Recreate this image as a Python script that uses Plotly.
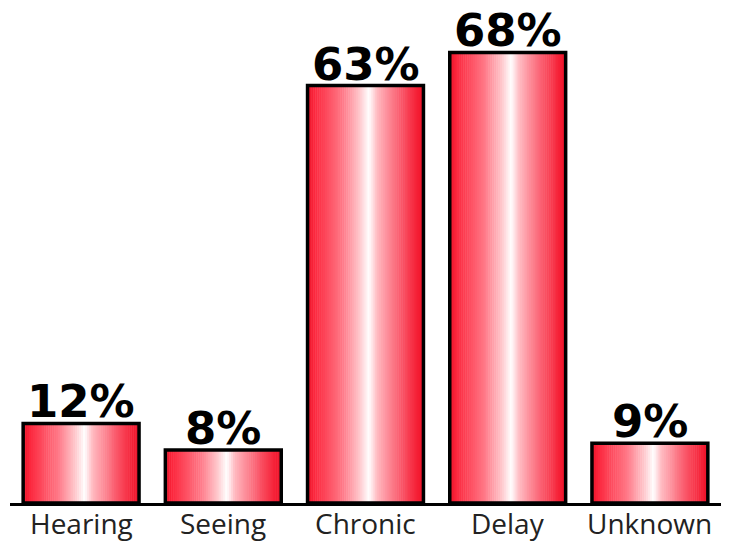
import plotly.graph_objects as go

# Share of cases by category (percent)
categories = ["Hearing", "Seeing", "Chronic", "Delay", "Unknown"]
values = [12, 8, 63, 68, 9]
value_labels = ["12%", "8%", "63%", "68%", "9%"]

BAR_W = 0.815
N_SLICES = 60

# Horizontal shading across each bar: red edges, white highlight right of centre
stops = [
    (0.00, (236, 18, 40)),
    (0.06, (252, 40, 62)),
    (0.30, (255, 120, 135)),
    (0.45, (255, 200, 205)),
    (0.53, (255, 255, 255)),
    (0.60, (255, 185, 192)),
    (0.80, (250, 90, 108)),
    (0.95, (245, 30, 52)),
    (1.00, (236, 18, 40)),
]


def shade(t):
    for (t0, c0), (t1, c1) in zip(stops[:-1], stops[1:]):
        if t0 <= t <= t1:
            f = (t - t0) / (t1 - t0) if t1 > t0 else 0
            r, g, b = (round(a + (bb - a) * f) for a, bb in zip(c0, c1))
            return f"rgb({r},{g},{b})"
    return "rgb(236,18,40)"


fig = go.Figure()

slice_w = BAR_W / N_SLICES
for k in range(N_SLICES):
    t = (k + 0.5) / N_SLICES
    fig.add_trace(go.Bar(
        x=categories,
        y=values,
        width=slice_w * 1.25,
        offset=-BAR_W / 2 + k * slice_w,
        marker=dict(color=shade(t), line=dict(width=0)),
        hoverinfo="skip",
        showlegend=False,
    ))

# Outline on top of the shaded slices
fig.add_trace(go.Bar(
    x=categories,
    y=values,
    width=BAR_W,
    marker=dict(color="rgba(0,0,0,0)", line=dict(color="black", width=3.5)),
    hoverinfo="skip",
    showlegend=False,
))

# Value labels just above each bar
for cat, val, lab in zip(categories, values, value_labels):
    fig.add_annotation(
        x=cat, y=val, text=lab, showarrow=False,
        xanchor="center", yanchor="bottom", yshift=-7,
        font=dict(family="DejaVu Sans", size=45, color="black", weight="bold"),
    )

# Category names under the baseline
for cat in categories:
    fig.add_annotation(
        x=cat, y=0, text=cat, showarrow=False,
        xanchor="center", yanchor="top", yshift=1,
        font=dict(family="Open Sans", size=28, color="#222"),
    )

fig.update_layout(
    width=740,
    height=541,
    barmode="overlay",
    plot_bgcolor="white",
    paper_bgcolor="white",
    margin=dict(l=10, r=19, t=6, b=38),
    bargap=1 - BAR_W,
    xaxis=dict(
        showline=True,
        linecolor="black",
        linewidth=3,
        showgrid=False,
        zeroline=False,
        ticks="",
        showticklabels=False,
        range=[-0.5, 4.5],
        automargin=False,
    ),
    yaxis=dict(
        visible=False,
        range=[0, 75],
        showgrid=False,
        zeroline=False,
        automargin=False,
    ),
)

fig.write_html("out.html")
